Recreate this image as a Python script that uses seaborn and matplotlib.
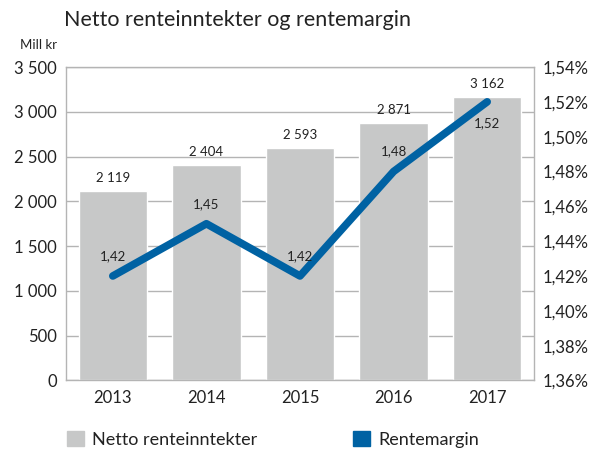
import numpy as np
import pandas as pd
import seaborn as sns
import matplotlib.pyplot as plt
from matplotlib.patches import Patch

sns.set_theme(style="white")
plt.rcParams['font.family'] = ['Lato', 'DejaVu Sans']

years = ['2013', '2014', '2015', '2016', '2017']
income = [2119, 2404, 2593, 2871, 3162]
margin = [1.42, 1.45, 1.42, 1.48, 1.52]

bar_color = '#c7c8c8'
line_color = '#0062a3'
grid_color = '#b4b4b4'

df = pd.DataFrame({'Year': years, 'Income': income, 'Margin': margin})

fig = plt.figure(figsize=(5.92, 4.5), dpi=100)
ax = fig.add_axes([0.1115, 0.1545, 0.7905, 0.6966])

sns.barplot(data=df, x='Year', y='Income', color=bar_color, width=0.73,
            saturation=1, ax=ax, zorder=2)
ax.set_ylim(0, 3500)
ax.set_yticks(range(0, 3501, 500))
ax.set_yticklabels([f"{v:,}".replace(',', ' ') for v in range(0, 3501, 500)])
ax.yaxis.grid(True, color=grid_color, linewidth=1)
ax.set_axisbelow(True)
ax.set_xlabel('')
ax.set_ylabel('')
for s in ax.spines.values():
    s.set_color(grid_color)
    s.set_linewidth(1)
ax.tick_params(axis='both', length=0, labelsize=12, colors='#222222', pad=6.5)

for i, v in enumerate(income):
    ax.annotate(f"{v:,}".replace(',', ' '), (i, v), xytext=(0, 5),
                textcoords='offset points', ha='center', va='bottom',
                fontsize=9.5, color='#222222')

ax2 = ax.twinx()
sns.pointplot(x=years, y=margin, ax=ax2, color=line_color, markers='',
              linewidth=5.5)
ax2.set_ylim(1.36, 1.54)
rt = np.arange(1.36, 1.5401, 0.02)
ax2.set_yticks(rt)
ax2.set_yticklabels([f"{t:.2f}%".replace('.', ',') for t in rt])
ax2.tick_params(axis='y', length=0, labelsize=12, colors='#222222', pad=6.5)
for s in ax2.spines.values():
    s.set_visible(False)
ax2.set_ylabel('')
ax2.set_xlim(ax.get_xlim())

for i, v in enumerate(margin):
    off = -11 if i == 4 else 10
    ax2.annotate(f"{v:.2f}".replace('.', ','), (i, v), xytext=(0, off),
                 textcoords='offset points', ha='center',
                 va='bottom' if off > 0 else 'top', fontsize=9.5,
                 color='#222222')

fig.text(0.108, 0.955, 'Netto renteinntekter og rentemargin', fontsize=15.5,
         color='#222222', va='center')
fig.text(0.097, 0.9, 'Mill kr', fontsize=9.5, color='#222222', ha='right',
         va='center')

handles = [Patch(color=bar_color), Patch(color=line_color)]
fig.legend(handles, ['Netto renteinntekter', 'Rentemargin'], ncol=2,
           loc='center left', bbox_to_anchor=(0.085, 0.024), frameon=False,
           fontsize=13, handlelength=0.95, handleheight=0.95,
           columnspacing=5.3, handletextpad=0.45, labelcolor='#222222')

fig.savefig('out.png', dpi=100)
